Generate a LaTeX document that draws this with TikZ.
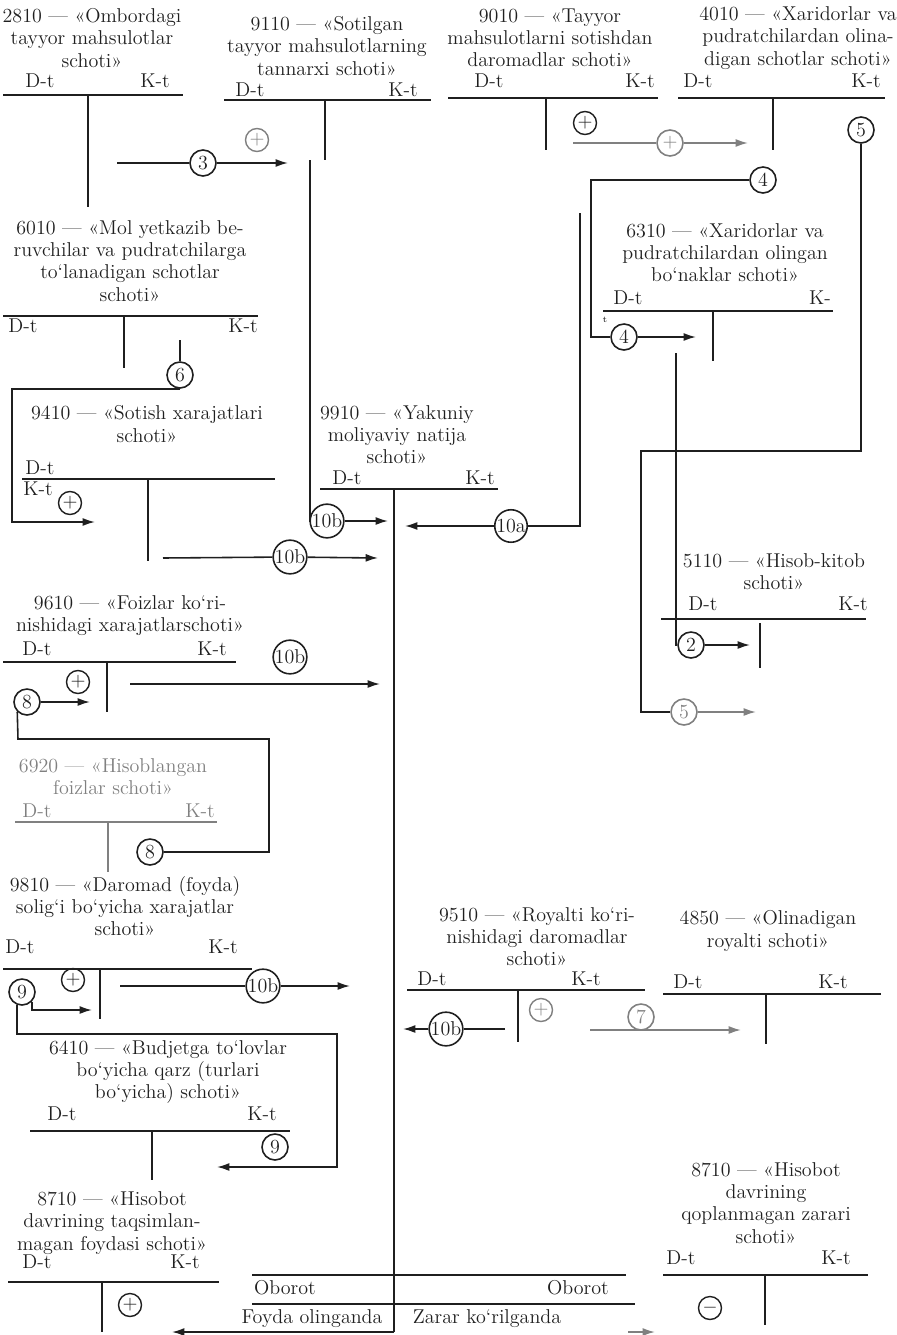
\documentclass[tikz,border=0pt]{standalone}
\usepackage{tikz}
\usetikzlibrary{arrows.meta, positioning}
\colorlet{ink}{black!88}
\colorlet{faint}{black!50}

\begin{document}
\begin{tikzpicture}[x=0.02cm, y=-0.02cm, >={Latex[length=7pt,width=4.5pt]},
    font=\fontsize{11.4}{12.6}\selectfont, text=ink,
    title/.style={align=center, inner sep=1pt},
    tline/.style={draw=ink, line width=1.1pt},
    link/.style={draw=ink, line width=0.9pt},
    num/.style={circle, draw=ink, line width=0.9pt, inner sep=0pt, minimum size=0.52cm},
    sign/.style={circle, draw=ink, line width=0.8pt, inner sep=0pt, minimum size=0.46cm}]
  \useasboundingbox (0,0) rectangle (896,1335);

  % 2810
  \node[title] (t2810) at (92,38) {2810 — «Ombordagi\\tayyor mahsulotlar\\schoti»};
  \node (d2810) at (40,81) {D-t};
  \node (k2810) at (155,81) {K-t};
  \draw[tline] (3,95) -- (183,95);
  \draw[tline] (88,95) -- (88,207);
  \node[num] (n3) at (203,163) {3};
  \coordinate (s3) at (117,163);
  \coordinate (e3) at (288,163);
  \draw[link] (s3) -- (n3);
  \draw[link,->] (n3) -- (e3);

  % 9110
  \node[title] (t9110) at (327,46) {9110 — «Sotilgan\\tayyor mahsulotlarning\\tannarxi schoti»};
  \node (d9110) at (250,90) {D-t};
  \node (k9110) at (403,90) {K-t};
  \draw[tline] (224,100) -- (431,100);
  \draw[tline] (325,100) -- (325,160);
  \node[sign, draw=faint, text=faint] (p9110) at (257,140) {$+$};
  \node[num] (b1) at (327,521) {10b};
  \coordinate (s9110) at (310,160);
  \coordinate (e1) at (388,521);
  \draw[link] (s9110) |- (b1);
  \draw[link,->] (b1) -- (e1);

  % 9010
  \node[title] (t9010) at (550,38) {9010 — «Tayyor\\mahsulotlarni sotishdan\\daromadlar schoti»};
  \node (d9010) at (489,81) {D-t};
  \node (k9010) at (640,81) {K-t};
  \draw[tline] (448,98) -- (658,98);
  \draw[tline] (546,98) -- (546,150);
  \node[sign] (p9010) at (585,123) {$+$};
  \node[num, draw=faint, text=faint] (pl) at (670,143) {$+$};
  \coordinate (spl) at (573,143);
  \coordinate (epl) at (748,143);
  \draw[link, faint] (spl) -- (pl);
  \draw[link, faint, ->] (pl) -- (epl);

  % 4010
  \node[title] (t4010) at (798,38) {4010 — «Xaridorlar va\\pudratchilardan olina-\\digan schotlar schoti»};
  \node (d4010) at (698,81) {D-t};
  \node (k4010) at (866,81) {K-t};
  \draw[tline] (678,98) -- (885,98);
  \draw[tline] (773,98) -- (773,150);
  \node[num] (n5a) at (861,130) {5};
  \node[num] (n4a) at (763,180) {4};

  % 6310
  \node[title] (t6310) at (725,253) {6310 — «Xaridorlar va\\pudratchilardan olingan\\bo‘naklar schoti»};
  \node (d6310) at (628,298) {D-t};
  \node (k6310) at (820,298) {K-};
  \node[font=\tiny] (tt) at (605,320) {t};
  \draw[tline] (603,311) -- (833,311);
  \draw[tline] (713,311) -- (713,361);
  \node[num] (n4b) at (624,337) {4};
  \coordinate (e4) at (696,337);
  \draw[link] (n4a) -- (591,180) |- (n4b);
  \draw[link,->] (n4b) -- (e4);

  % 10a
  \node[num] (a10) at (511,526) {10a};
  \coordinate (s10a) at (580,213);
  \coordinate (e10a) at (405,526);
  \draw[link] (s10a) |- (a10);
  \draw[link,->] (a10) -- (e10a);

  % 5110
  \node[title] (t5110) at (774,572) {5110 — «Hisob-kitob\\schoti»};
  \node (d5110) at (703,604) {D-t};
  \node (k5110) at (853,604) {K-t};
  \draw[tline] (661,619) -- (866,619);
  \draw[tline] (760,623) -- (760,668);
  \node[num] (n2) at (691,645) {2};
  \coordinate (s2) at (676,353);
  \coordinate (e2) at (750,645);
  \draw[link] (s2) |- (n2);
  \draw[link,->] (n2) -- (e2);
  \node[num, draw=faint, text=faint] (n5b) at (684,712) {5};
  \coordinate (e5) at (756,712);
  \draw[link] (n5a) -- (861,451) -- (641,451) |- (n5b);
  \draw[link, faint, ->] (n5b) -- (e5);

  % 6010
  \node[title] (t6010) at (130,261) {6010 — «Mol yetkazib be-\\ruvchilar va pudratchilarga\\to‘lanadigan schotlar\\schoti»};
  \node (d6010) at (23,326) {D-t};
  \node (k6010) at (243,326) {K-t};
  \draw[tline] (3,316) -- (258,316);
  \draw[tline] (124,316) -- (124,368);
  \node[num] (n6) at (180,375) {6};
  \coordinate (s6) at (180,340);
  \coordinate (e6) at (95,522);
  \draw[link] (s6) -- (n6);
  \draw[link,->] (n6.south) -| (12,450) |- (e6);

  % 9410
  \node[title] (t9410) at (147,424) {9410 — «Sotish xarajatlari\\schoti»};
  \node (d9410) at (40,468) {D-t};
  \node (k9410) at (38,489) {K-t};
  \draw[tline] (22,479) -- (275,479);
  \draw[tline] (148,479) -- (148,561);
  \node[sign] (p9410) at (70,503) {$+$};
  \node[num] (b2) at (290,557) {10b};
  \coordinate (s2b) at (163,558);
  \coordinate (e2b) at (378,558);
  \draw[link] (s2b) -- (b2);
  \draw[link,->] (b2) -- (e2b);

  % 9910
  \node[title] (t9910) at (397,435) {9910 — «Yakuniy\\moliyaviy natija\\schoti»};
  \node (d9910) at (347,478) {D-t};
  \node (k9910) at (480,478) {K-t};
  \draw[tline] (320,489) -- (498,489);
  \coordinate (c9910) at (394,1332);
  \coordinate (efoyda) at (172,1332);
  \draw[tline] (394,489) -- (c9910);
  \draw[link,->] (c9910) -- (efoyda);
  \draw[link, faint, ->] (628,1332) -- (655,1332);
  \draw[tline] (252,1275) -- (626,1275);
  \draw[tline] (252,1304) -- (635,1304);
  \node (ob1) at (285,1288) {Oborot};
  \node (ob2) at (578,1288) {Oborot};
  \node (foyda) at (312,1319) {Foyda olinganda};
  \node (zarar) at (487,1319) {Zarar ko‘rilganda};

  % 9610
  \node[title] (t9610) at (130,616) {9610 — «Foizlar ko‘ri-\\nishidagi xarajatlarschoti»};
  \node (d9610) at (37,649) {D-t};
  \node (k9610) at (212,649) {K-t};
  \draw[tline] (3,662) -- (236,662);
  \draw[tline] (107,662) -- (107,712);
  \node[sign] (p9610) at (78,682) {$+$};
  \node[num] (n8a) at (27,702) {8};
  \coordinate (e8) at (90,702);
  \draw[link,->] (n8a) -- (e8);
  \node[num] (b3) at (290,657) {10b};
  \coordinate (s3b) at (130,684);
  \coordinate (e3b) at (380,684);
  \draw[link,->] (s3b) -- (e3b);

  % 6920
  \node[title, text=faint] (t6920) at (113,777) {6920 — «Hisoblangan\\foizlar schoti»};
  \node[text=faint] (d6920) at (37,811) {D-t};
  \node[text=faint] (k6920) at (200,811) {K-t};
  \draw[tline, draw=faint] (15,822) -- (217,822);
  \draw[tline, draw=faint] (108,822) -- (108,872);
  \node[num] (n8b) at (150,852) {8};
  \draw[link] (n8b) -| (269,780) |- (18,739) -- (n8a.south west);

  % 9810
  \node[title] (t9810) at (125,906) {9810 — «Daromad (foyda)\\solig‘i bo‘yicha xarajatlar\\schoti»};
  \node (d9810) at (20,947) {D-t};
  \node (k9810) at (223,947) {K-t};
  \draw[tline] (3,969) -- (252,969);
  \draw[tline] (100,969) -- (100,1019);
  \node[sign] (p9810) at (73,980) {$+$};
  \node[num] (n9a) at (22,992) {9};
  \coordinate (e9a) at (92,1010);
  \draw[link,->] (n9a.south east) |- (e9a);
  \node[num] (b4) at (263,986) {10b};
  \coordinate (s4b) at (120,986);
  \coordinate (e4b) at (350,986);
  \draw[link] (s4b) -- (b4);
  \draw[link,->] (b4) -- (e4b);

  % 6410
  \node[title] (t6410) at (168,1072) {6410 — «Budjetga to‘lovlar\\bo‘yicha qarz (turlari\\bo‘yicha) schoti»};
  \node (d6410) at (62,1114) {D-t};
  \node (k6410) at (262,1114) {K-t};
  \draw[tline] (30,1131) -- (290,1131);
  \draw[tline] (152,1131) -- (152,1180);
  \node[num] (n9b) at (275,1147) {9};
  \coordinate (e9b) at (217,1167);
  \draw[link,->] (n9a.250) |- (337,1034) -- (337,1167) -- (e9b);

  % 8710 foyda
  \node[title] (t8710a) at (112,1223) {8710 — «Hisobot\\davrining taqsimlan-\\magan foydasi schoti»};
  \node (d8710a) at (37,1262) {D-t};
  \node (k8710a) at (185,1262) {K-t};
  \draw[tline] (8,1282) -- (219,1282);
  \draw[tline] (102,1282) -- (102,1332);
  \node[sign] (p8710) at (130,1305) {$+$};

  % 9510
  \node[title] (t9510) at (537,937) {9510 — «Royalti ko‘ri-\\nishidagi daromadlar\\schoti»};
  \node (d9510) at (432,979) {D-t};
  \node (k9510) at (586,979) {K-t};
  \draw[tline] (407,990) -- (645,990);
  \draw[tline] (518,990) -- (518,1042);
  \node[sign, draw=faint, text=faint] (p9510) at (541,1010) {$+$};
  \node[num] (b5) at (446,1029) {10b};
  \coordinate (s5b) at (505,1029);
  \coordinate (e5b) at (403,1029);
  \draw[link] (s5b) -- (b5);
  \draw[link,->] (b5) -- (e5b);
  \node[num, draw=faint, text=faint] (n7) at (641,1017) {7};
  \coordinate (s7) at (590,1030);
  \coordinate (e7) at (741,1030);
  \draw[link, faint, ->] (s7) -- (e7);

  % 4850
  \node[title] (t4850) at (768,931) {4850 — «Olinadigan\\royalti schoti»};
  \node (d4850) at (688,982) {D-t};
  \node (k4850) at (833,982) {K-t};
  \draw[tline] (663,994) -- (881,994);
  \draw[tline] (766,994) -- (766,1044);

  % 8710 zarar
  \node[title] (t8710b) at (766,1203) {8710 — «Hisobot\\davrining\\qoplanmagan zarari\\schoti»};
  \node (d8710b) at (681,1258) {D-t};
  \node (k8710b) at (836,1258) {K-t};
  \draw[tline] (663,1275) -- (868,1275);
  \draw[tline] (765,1275) -- (765,1325);
  \node[sign] (m8710) at (710,1308) {$-$};
\end{tikzpicture}
\end{document}
